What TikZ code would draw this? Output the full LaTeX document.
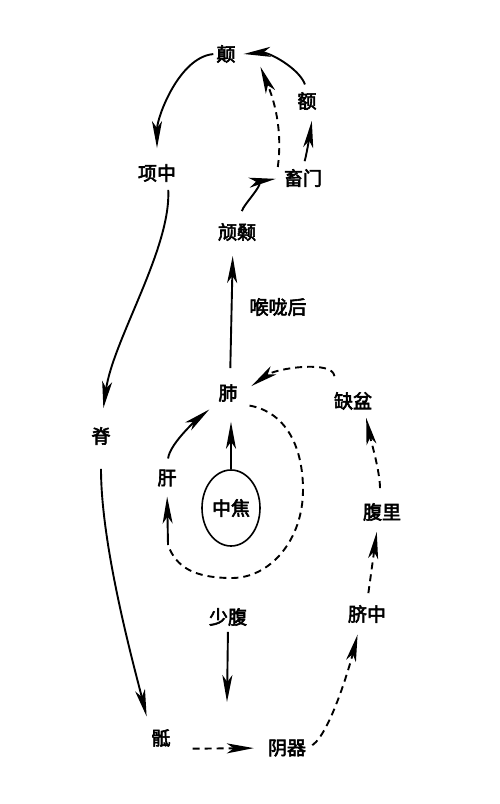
\documentclass[tikz,border=0pt]{standalone}
\usepackage{fontspec}
\setmainfont{Noto Sans CJK SC}[FakeBold=3]
\usetikzlibrary{arrows.meta,shapes.geometric}
\begin{document}
\begin{tikzpicture}[x=1pt,y=-1pt,
        lbl/.style={inner sep=2pt, font=\fontsize{19}{21}\selectfont},
        jing/.style={line width=1.9pt, -{Stealth[length=27pt,width=10pt,inset=7pt]}},
        luo/.style={jing, dash pattern=on 7pt off 5pt}
    ]
    \useasboundingbox[fill=white] (0,0) rectangle (500,804);

    \node[lbl] (dian)       at (226,54)  {颠};
    \node[lbl] (e)          at (307,101) {额};
    \node[lbl] (xiangzhong) at (157,173) {项中};
    \node[lbl] (xumen)      at (303,178) {畜门};
    \node[lbl] (hangsang)   at (237,232) {颃颡};
    \node[lbl] (houlong)    at (278,307) {喉咙后};
    \node[lbl] (fei)        at (228,393) {肺};
    \node[lbl] (quepen)     at (353,401) {缺盆};
    \node[lbl] (ji)         at (101,436) {脊};
    \node[lbl] (gan)        at (167,478) {肝};
    \node[lbl, draw, ellipse, line width=1.6pt, inner sep=0pt,
          minimum width=58pt, minimum height=76pt] (zhongjiao) at (231,508) {中焦};
    \node[lbl] (fuli)       at (382,512) {腹里};
    \node[lbl] (shaofu)     at (228,617) {少腹};
    \node[lbl] (qizhong)    at (367,614) {脐中};
    \node[lbl] (di)         at (161,738) {骶};
    \node[lbl] (yinqi)      at (287,748) {阴器};

    \coordinate (loopright)  at (303,490);
    \coordinate (loopbottom) at (232,578);
    \coordinate (loopend)    at (168,545);
    \coordinate (shaofudown) at (227,702);

    \draw[jing, shorten <=1pt, shorten >=14pt] (dian.west) .. controls +(-35,3) and +(0,-45) .. (xiangzhong.north);
    \draw[jing, shorten <=6pt] (e.north) .. controls +(-8,-22) and +(25,-2) .. ([xshift=6pt]dian.east);
    \draw[luo, shorten >=2pt] ([xshift=-4pt]xumen.north west) .. controls +(6,-45) and +(10,25) .. ([xshift=22pt]dian.south east);
    \draw[jing, shorten <=6pt, shorten >=9pt] (xumen.north) .. controls +(4,-14) and +(-2,15) .. ([xshift=6pt]e.south);
    \draw[jing, shorten <=10pt, shorten >=6pt] ([xshift=3pt]hangsang.north) .. controls +(3,-16) and +(-14,2) .. (xumen.west);
    \draw[jing, shorten <=14pt, shorten >=13pt] ([xshift=2pt]fei.north) -- ([xshift=-4pt]hangsang.south);
    \draw[luo, shorten <=14pt, shorten >=12pt] ([xshift=4pt]quepen.north west) .. controls +(-3,-30) and +(35,-25) .. ([xshift=2pt]fei.east);
    \draw[line width=1.9pt, dash pattern=on 7pt off 5pt, shorten <=10pt] (fei.south east) .. controls +(45,8) and +(0,-45) .. (loopright)
        .. controls +(0,50) and +(38,0) .. (loopbottom) .. controls +(-38,0) and +(8,22) .. (loopend);
    \draw[jing, shorten >=8pt] (loopend) -- (gan.south);
    \draw[jing, shorten <=9pt, shorten >=9pt] (gan.north) .. controls +(3,-25) and +(-15,12) .. (fei.south west);
    \draw[jing, shorten >=18pt] (zhongjiao.north) -- ([xshift=3pt]fei.south);
    \draw[jing, shorten <=6pt, shorten >=17pt] ([xshift=11pt]xiangzhong.south) .. controls +(3,65) and +(12,-85) .. (ji.north);
    \draw[jing, shorten <=22pt, shorten >=11pt] (ji.south) .. controls +(0,100) and +(-15,-60) .. (di.north west);
    \draw[luo, shorten <=20pt, shorten >=12pt] (di.south east) -- (yinqi.west);
    \draw[luo, shorten <=5pt, shorten >=10pt] (yinqi.east) .. controls +(22,-15) and +(-10,40) .. ([xshift=-7pt]qizhong.south);
    \draw[luo, shorten <=10pt, shorten >=9pt] (qizhong.north) -- ([xshift=-4pt]fuli.south);
    \draw[luo, shorten <=13pt, shorten >=6pt] ([xshift=-2pt]fuli.north) .. controls +(0,-30) and +(5,25) .. ([xshift=12pt]quepen.south);
    \draw[jing, shorten <=4pt] (shaofu.south) -- (shaofudown);
\end{tikzpicture}
\end{document}
